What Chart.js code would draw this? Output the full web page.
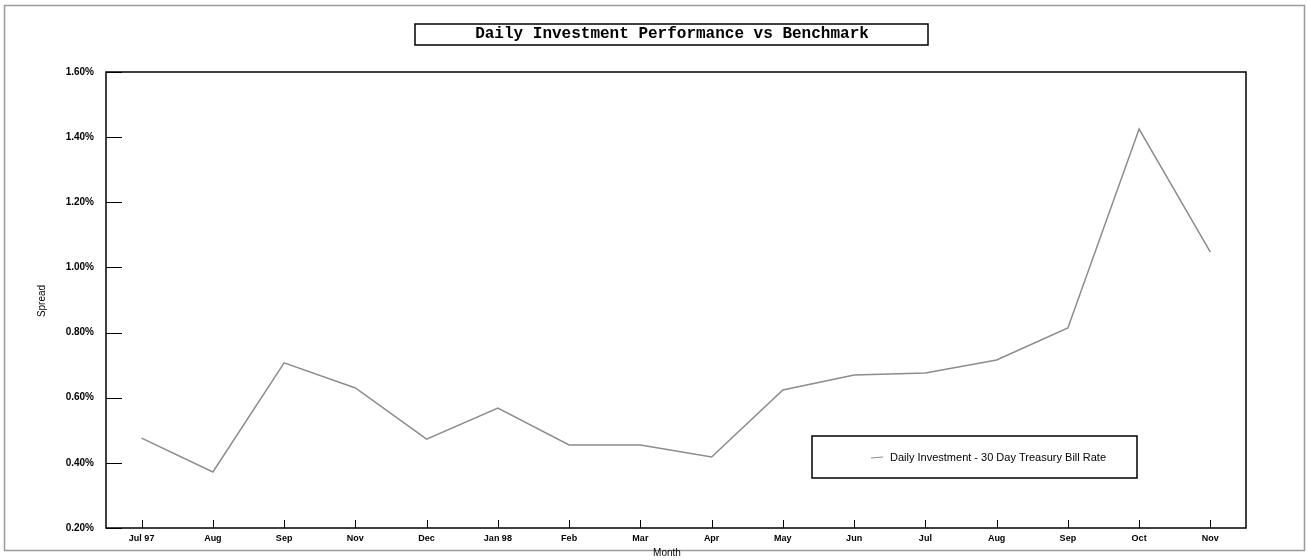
<!DOCTYPE html>
<html>
<head>
<meta charset="utf-8">
<script src="https://cdn.jsdelivr.net/npm/chart.js@4/dist/chart.umd.min.js"></script>
<style>
  html, body { margin: 0; padding: 0; background: #fff; }
  #wrap { width: 1307px; height: 560px; position: relative; }
</style>
</head>
<body>
<div id="wrap"><canvas id="chart" width="1307" height="560"></canvas></div>
<script>
// chart data
const months = ['Jul 97', 'Aug', 'Sep', 'Nov', 'Dec', 'Jan 98', 'Feb', 'Mar', 'Apr', 'May', 'Jun', 'Jul', 'Aug', 'Sep', 'Oct', 'Nov'];
const spread = [0.476, 0.372, 0.707, 0.630, 0.473, 0.568, 0.455, 0.455, 0.418, 0.624, 0.670, 0.676, 0.716, 0.814, 1.425, 1.047];
const seriesName = 'Daily Investment - 30 Day Treasury Bill Rate';
const chartTitle = 'Daily Investment Performance vs Benchmark';
const yMin = 0.2, yMax = 1.6, yStep = 0.2;

const lineColor = '#8c8c8c';

// frame, title box, legend box, inward tick marks, axis titles
const decorations = {
  id: 'decorations',
  afterDraw(chart) {
    const ctx = chart.ctx;
    const area = chart.chartArea;
    const xs = chart.scales.x, ys = chart.scales.y;
    ctx.save();

    // outer page frame
    ctx.strokeStyle = '#9a9a9a';
    ctx.lineWidth = 1.5;
    ctx.strokeRect(4.5, 5.5, 1300, 545);

    // plot frame
    ctx.strokeStyle = '#000';
    ctx.lineWidth = 1.5;
    ctx.strokeRect(area.left, area.top, area.right - area.left, area.bottom - area.top);

    // y ticks pointing inward
    ctx.lineWidth = 1;
    ys.ticks.forEach((t, i) => {
      const y = Math.round(ys.getPixelForTick(i)) + 0.5;
      ctx.beginPath();
      ctx.moveTo(area.left, y);
      ctx.lineTo(area.left + 16, y);
      ctx.stroke();
    });
    // x ticks pointing inward
    xs.ticks.forEach((t, i) => {
      const x = Math.round(xs.getPixelForTick(i)) + 0.5;
      ctx.beginPath();
      ctx.moveTo(x, area.bottom);
      ctx.lineTo(x, area.bottom - 8);
      ctx.stroke();
    });

    // title box
    ctx.strokeStyle = '#000';
    ctx.lineWidth = 1.5;
    ctx.strokeRect(415, 24, 513, 21);
    ctx.fillStyle = '#000';
    ctx.font = 'bold 16px "Liberation Mono", "DejaVu Sans Mono", monospace';
    ctx.textAlign = 'center';
    ctx.textBaseline = 'middle';
    ctx.fillText(chartTitle, 672, 34);

    // legend box
    ctx.lineWidth = 1.5;
    ctx.strokeRect(812, 436, 325, 42);
    ctx.strokeStyle = lineColor;
    ctx.lineWidth = 1.2;
    ctx.beginPath();
    ctx.moveTo(871, 458);
    ctx.lineTo(883, 457);
    ctx.stroke();
    ctx.font = '11px "Liberation Sans", Arial, sans-serif';
    ctx.textAlign = 'left';
    ctx.fillText(chart.data.datasets[0].label, 890, 458);

    // axis titles
    ctx.font = '10px "Liberation Sans", Arial, sans-serif';
    ctx.textAlign = 'center';
    ctx.fillText('Month', 667, 553);
    ctx.save();
    ctx.translate(42, 301);
    ctx.rotate(-Math.PI / 2);
    ctx.fillText('Spread', 0, 0);
    ctx.restore();

    ctx.restore();
  }
};

new Chart(document.getElementById('chart'), {
  type: 'line',
  data: {
    labels: months,
    datasets: [{
      label: seriesName,
      data: spread,
      borderColor: lineColor,
      borderWidth: 1.5,
      pointRadius: 0,
      tension: 0,
      fill: false
    }]
  },
  options: {
    responsive: false,
    animation: false,
    layout: { padding: { left: 0, right: 61, top: 72, bottom: 0 } },
    plugins: {
      legend: { display: false },
      title: { display: false },
      tooltip: { enabled: false }
    },
    scales: {
      x: {
        offset: true,
        grid: { display: false, drawTicks: false },
        border: { display: false },
        ticks: {
          color: '#000',
          font: { family: '"Liberation Sans", Arial, sans-serif', size: 9, weight: 'bold' },
          padding: 5,
          maxRotation: 0,
          autoSkip: false
        },
        afterFit(scale) { scale.height = 32; }
      },
      y: {
        min: yMin,
        max: yMax,
        grid: { display: false, drawTicks: false },
        border: { display: false },
        ticks: {
          stepSize: yStep,
          color: '#000',
          font: { family: '"Liberation Sans", Arial, sans-serif', size: 10, weight: 'bold' },
          padding: 12,
          callback: (v) => v.toFixed(2) + '%'
        },
        afterFit(scale) { scale.width = 106; }
      }
    }
  },
  plugins: [decorations]
});
</script>
</body>
</html>
